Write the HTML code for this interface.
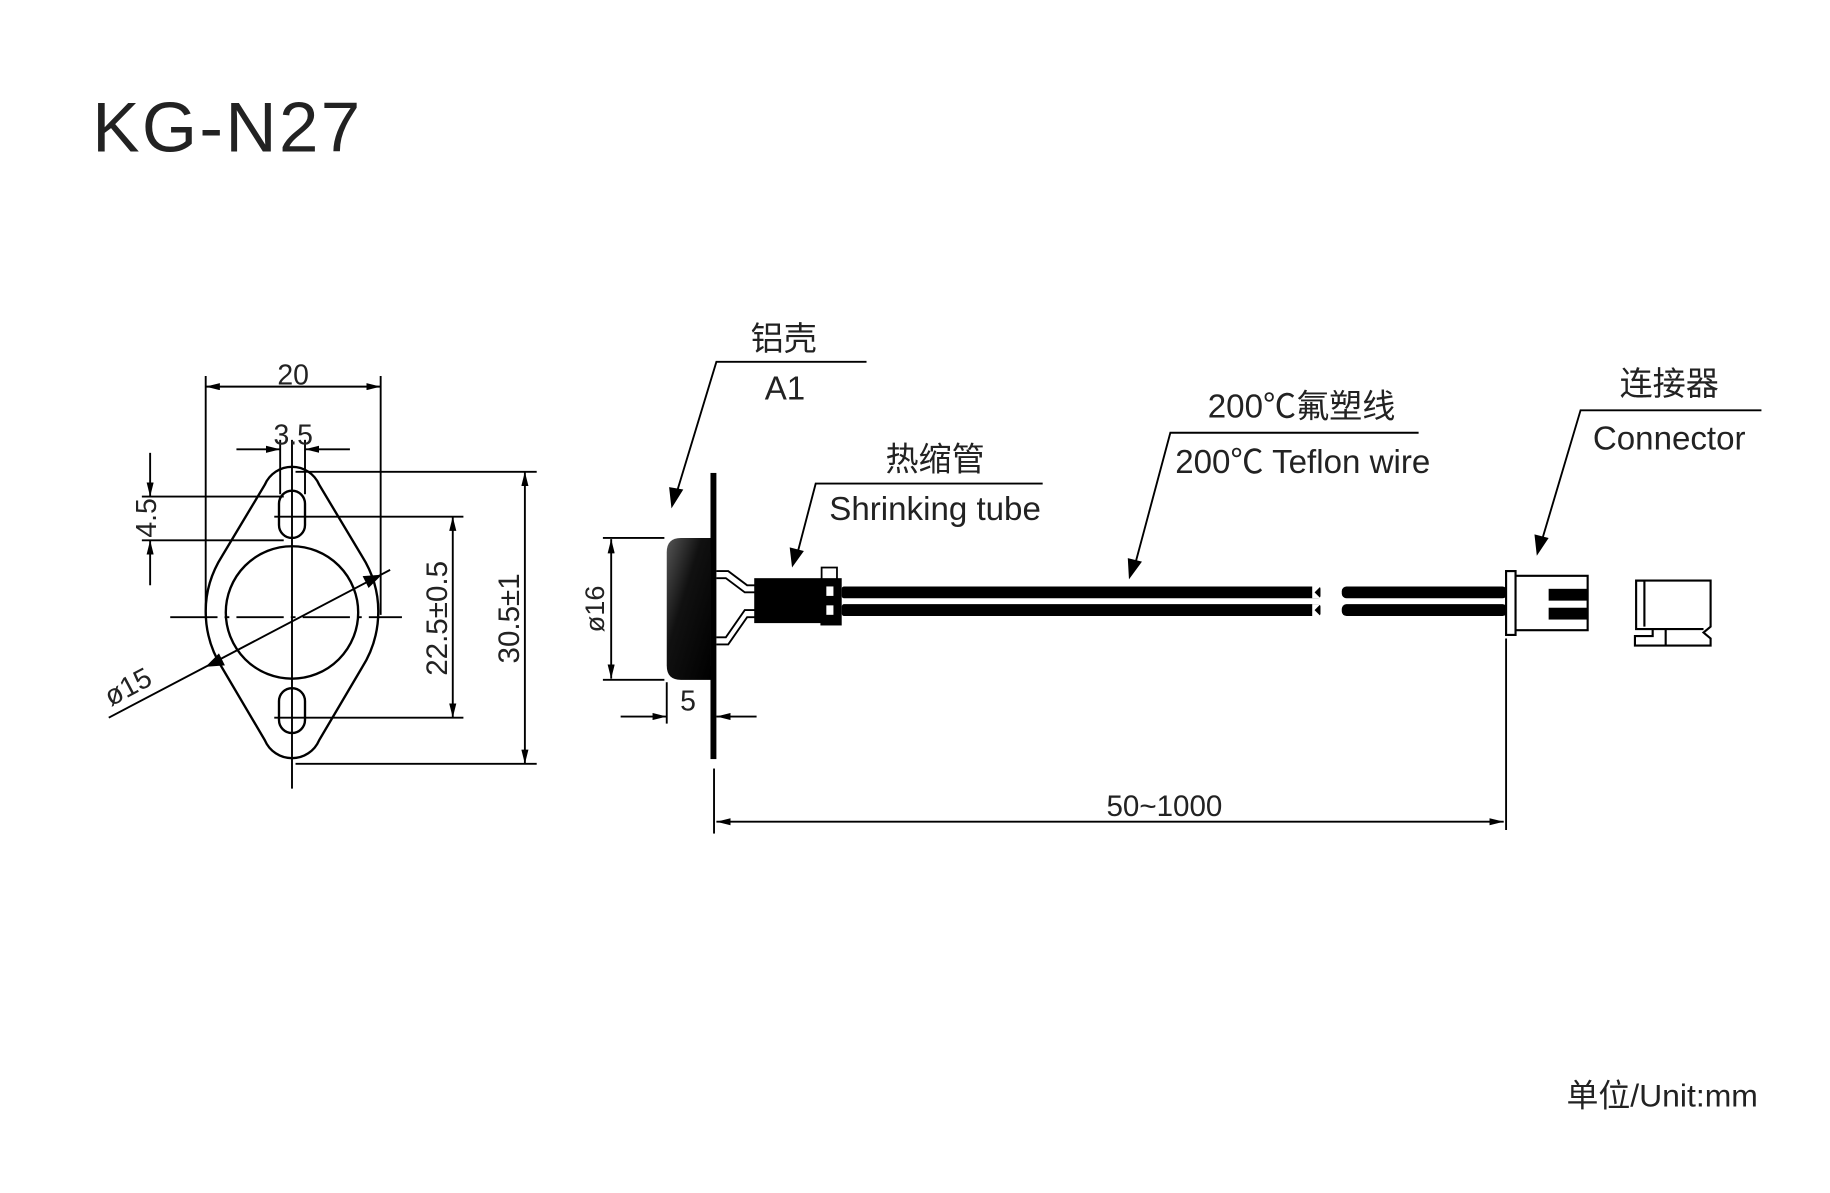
<!DOCTYPE html>
<html><head><meta charset="utf-8"><style>
html,body{margin:0;padding:0;background:#fff;}
svg{display:block;}
text{font-family:"Liberation Sans","Noto Sans CJK SC",sans-serif;fill:#222;}
</style></head><body>
<svg width="1830" height="1193" viewBox="0 0 1548 1009" preserveAspectRatio="none" xmlns="http://www.w3.org/2000/svg">
<defs>
<marker id="a" viewBox="0 0 12 6" refX="12" refY="3" markerWidth="12" markerHeight="6" orient="auto-start-reverse" markerUnits="userSpaceOnUse"><path d="M0,0 L12,3 L0,6 Z" fill="#000"/></marker>
<linearGradient id="g" x1="0" x2="1" y1="0" y2="1"><stop offset="0" stop-color="#555"/><stop offset="0.4" stop-color="#111"/><stop offset="1" stop-color="#000"/></linearGradient>
</defs>
<rect width="1548" height="1009" fill="#fff"/>
<text x="78" y="128" font-size="60" letter-spacing="2">KG-N27</text>

<!-- left view -->
<g stroke="#000" fill="none" stroke-width="1.6">
<path d="M224,410 A25 25 0 0 1 270,410 L306,470 Q320,492 320,517 Q320,543 306,565 L270,626 A25 25 0 0 1 224,626 L188,565 Q174,543 174,517 Q174,492 188,470 Z" stroke-width="2"/>
<circle cx="247" cy="518" r="56" stroke-width="2"/>
<rect x="236" y="415" width="22" height="40" rx="11" stroke-width="2"/>
<rect x="236" y="582" width="22" height="38" rx="11" stroke-width="2"/>
<line x1="247" y1="372" x2="247" y2="667"/>
<line x1="144" y1="522" x2="340" y2="522" stroke-dasharray="40,6,4,6"/>
<line x1="174" y1="318" x2="174" y2="520"/>
<line x1="322" y1="318" x2="322" y2="520"/>
<line x1="174" y1="327" x2="322" y2="327" marker-start="url(#a)" marker-end="url(#a)"/>
<line x1="237" y1="372" x2="237" y2="418"/>
<line x1="258" y1="372" x2="258" y2="418"/>
<line x1="200" y1="380" x2="237" y2="380" marker-end="url(#a)"/>
<line x1="296" y1="380" x2="258" y2="380" marker-end="url(#a)"/>
<line x1="120" y1="420" x2="240" y2="420"/>
<line x1="120" y1="457" x2="240" y2="457"/>
<line x1="127" y1="383" x2="127" y2="420" marker-end="url(#a)"/>
<line x1="127" y1="495" x2="127" y2="457" marker-end="url(#a)"/>
<line x1="232" y1="437" x2="392" y2="437"/>
<line x1="232" y1="607" x2="392" y2="607"/>
<line x1="383" y1="437" x2="383" y2="607" marker-start="url(#a)" marker-end="url(#a)"/>
<line x1="250" y1="399" x2="454" y2="399"/>
<line x1="250" y1="646" x2="454" y2="646"/>
<line x1="444" y1="399" x2="444" y2="646" marker-start="url(#a)" marker-end="url(#a)"/>
<line x1="92" y1="607" x2="330" y2="482"/>
<path d="M321,487 L308,488 L312,496 Z M176,563 L189,562 L185,554 Z" fill="#000"/>
</g>
<text x="248" y="325" font-size="24" text-anchor="middle">20</text>
<text x="248" y="376" font-size="24" text-anchor="middle">3.5</text>
<text x="124" y="438" font-size="24" text-anchor="middle" transform="rotate(-90 124 438)" dy="8">4.5</text>
<text x="370" y="523" font-size="25" text-anchor="middle" transform="rotate(-90 370 523)" dy="8">22.5±0.5</text>
<text x="431" y="523" font-size="25" text-anchor="middle" transform="rotate(-90 431 523)" dy="8">30.5±1</text>
<text x="112" y="588" font-size="24" text-anchor="middle" transform="rotate(-28 112 588)">ø15</text>

<!-- right view -->
<path d="M601,455 L576,455 Q564,455 564,467 L564,563 Q564,575 576,575 L601,575 Z" fill="url(#g)"/>
<rect x="601" y="400" width="5" height="242" fill="#000"/>
<g stroke="#000" fill="none" stroke-width="1.6">
<line x1="510" y1="455" x2="562" y2="455"/>
<line x1="510" y1="575" x2="562" y2="575"/>
<line x1="517" y1="456" x2="517" y2="574" marker-start="url(#a)" marker-end="url(#a)"/>
<line x1="564" y1="577" x2="564" y2="612"/>
<line x1="525" y1="606" x2="564" y2="606" marker-end="url(#a)"/>
<line x1="640" y1="606" x2="606" y2="606" marker-end="url(#a)"/>
<line x1="604" y1="650" x2="604" y2="705"/>
<line x1="1274" y1="540" x2="1274" y2="702"/>
<line x1="606" y1="695" x2="1272" y2="695" marker-start="url(#a)" marker-end="url(#a)"/>
<path d="M606,483 L616,483 L632,495 L640,495 M606,489 L614,489 L630,501 L640,501 M606,545 L616,545 L632,522 L640,522 M606,539 L614,539 L630,516 L640,516"/>
</g>
<text x="503" y="515" font-size="23" text-anchor="middle" transform="rotate(-90 503 515)" dy="8">ø16</text>
<text x="582" y="601" font-size="24" text-anchor="middle">5</text>
<text x="985" y="690" font-size="25" text-anchor="middle">50~1000</text>
<rect x="638" y="489" width="60" height="38" fill="#000"/>
<rect x="695" y="480" width="13" height="10" fill="#fff" stroke="#000" stroke-width="1.5"/>
<rect x="694" y="489" width="18" height="40" fill="#000"/>
<rect x="699" y="496" width="6" height="8" fill="#fff"/>
<rect x="699" y="512" width="6" height="8" fill="#fff"/>
<rect x="712" y="496" width="405" height="10" fill="#000" rx="2"/>
<rect x="712" y="511" width="405" height="10" fill="#000" rx="2"/>
<path d="M1110,496 L1117,496 L1112,501 L1117,506 L1110,506 Z M1110,511 L1117,511 L1112,516 L1117,521 L1110,521 Z" fill="#fff"/>
<rect x="1135" y="496" width="140" height="10" fill="#000" rx="4"/>
<rect x="1135" y="511" width="140" height="10" fill="#000" rx="4"/>
<g stroke="#000" fill="#fff" stroke-width="1.8">
<rect x="1281" y="487" width="62" height="46"/>
<rect x="1274" y="483" width="8" height="54"/>
<path d="M1384,491 L1447,491 L1447,530 L1441,535 L1447,540 L1447,546 L1383,546 L1383,538 L1398,538 L1398,532 L1384,532 Z"/>
<path d="M1384,491 L1391,491 L1391,530 M1398,532 L1441,532 M1409,532 L1409,546" fill="none"/>
</g>
<rect x="1310" y="498" width="33" height="10" fill="#000"/>
<rect x="1310" y="514" width="33" height="10" fill="#000"/>

<!-- labels -->
<g stroke="#000" stroke-width="1.6" fill="none">
<polyline points="733,306 606,306 572,418"/>
<polyline points="882,409 690,409 674,470"/>
<polyline points="1200,366 990,366 960,478"/>
<polyline points="1490,347 1337,347 1304,458"/>
</g>
<path d="M568,430 L566,412 L578,414 Z M670,480 L668,463 L680,466 Z M955,490 L954,472 L966,475 Z M1300,470 L1298,452 L1310,455 Z" fill="#000"/>
<text x="663" y="296" font-size="28" text-anchor="middle">铝壳</text>
<text x="664" y="338" font-size="28" text-anchor="middle">A1</text>
<text x="791" y="398" font-size="28" text-anchor="middle">热缩管</text>
<text x="791" y="440" font-size="28" text-anchor="middle">Shrinking tube</text>
<text x="1101" y="353" font-size="28" text-anchor="middle">200℃氟塑线</text>
<text x="1102" y="400" font-size="28" text-anchor="middle">200℃ Teflon wire</text>
<text x="1412" y="334" font-size="28" text-anchor="middle">连接器</text>
<text x="1412" y="380" font-size="28" text-anchor="middle">Connector</text>
<text x="1487" y="936" font-size="27" text-anchor="end">单位/Unit:mm</text>
</svg>
</body></html>
